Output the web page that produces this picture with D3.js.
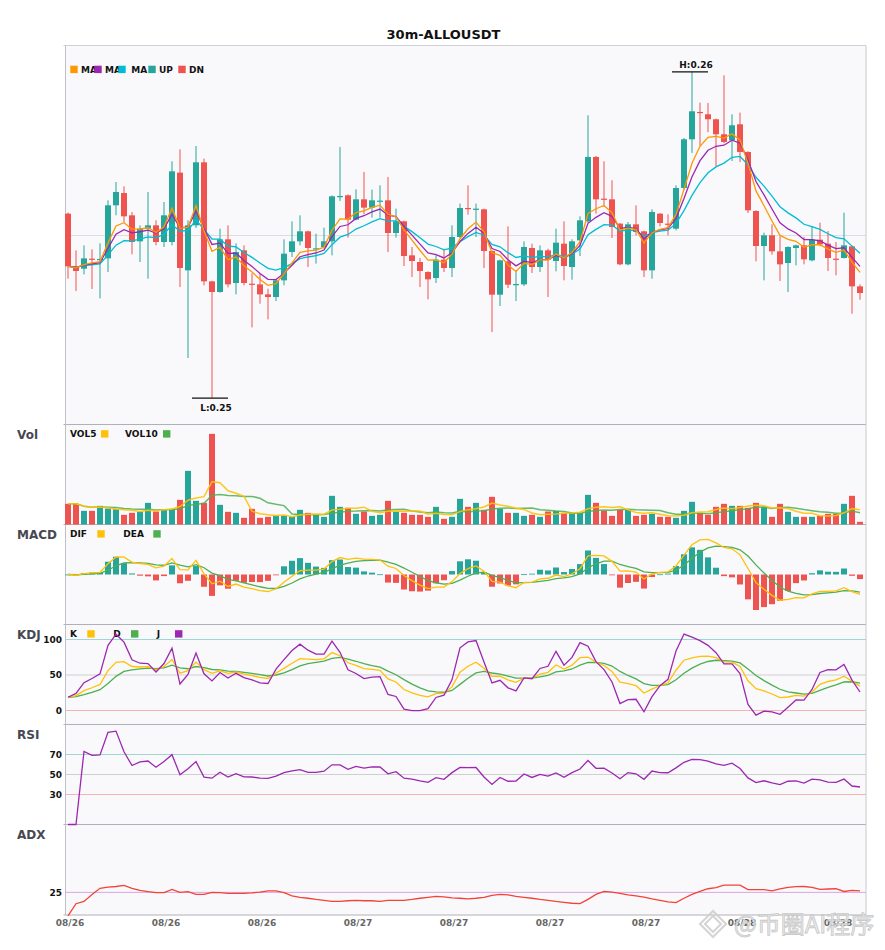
<!DOCTYPE html>
<html><head><meta charset="utf-8">
<script src="https://cdn.jsdelivr.net/npm/d3@7/dist/d3.min.js"></script>
<style>html,body{margin:0;padding:0;background:#fff;}svg{display:block;font-family:"DejaVu Sans",sans-serif;}</style>
</head><body>
<svg id="chart" width="885" height="950"></svg>
<script>
// ---------- DATA ----------
const title = "30m-ALLOUSDT";
const opens = [0.25573,0.25415,0.25408,0.25438,0.25434,0.25439,0.25598,0.25635,0.25568,0.25490,
0.25528,0.25538,0.25488,0.25488,0.25696,0.25403,0.25538,0.25727,0.25370,0.25338,
0.25496,0.25365,0.25463,0.25363,0.25361,0.25331,0.25323,0.25373,0.25458,0.25490,
0.25520,0.25468,0.25473,0.25490,0.25624,0.25628,0.25555,0.25616,0.25591,0.25611,
0.25613,0.25515,0.25550,0.25448,0.25428,0.25398,0.25380,0.25435,0.25410,0.25503,
0.25590,0.25587,0.25586,0.25461,0.25330,0.25430,0.25361,0.25361,0.25470,0.25413,
0.25463,0.25431,0.25483,0.25413,0.25493,0.25550,0.25743,0.25618,0.25616,0.25543,
0.25421,0.25541,0.25520,0.25403,0.25573,0.25543,0.25528,0.25650,0.25796,0.25878,
0.25871,0.25856,0.25811,0.25793,0.25841,0.25758,0.25581,0.25476,0.25508,0.25460,
0.25425,0.25470,0.25478,0.25433,0.25495,0.25483,0.25438,0.25440,0.25475,0.25355];
const highs = [0.25576,0.25463,0.25478,0.25466,0.25484,0.25613,0.25668,0.25655,0.25578,0.25538,
0.25638,0.25553,0.25608,0.25730,0.25766,0.25553,0.25776,0.25738,0.25372,0.25528,
0.25538,0.25484,0.25478,0.25394,0.25394,0.25348,0.25376,0.25496,0.25550,0.25568,
0.25522,0.25513,0.25531,0.25628,0.25773,0.25631,0.25646,0.25698,0.25645,0.25658,
0.25683,0.25588,0.25552,0.25473,0.25440,0.25400,0.25448,0.25468,0.25538,0.25603,
0.25658,0.25603,0.25588,0.25463,0.25435,0.25535,0.25403,0.25490,0.25483,0.25478,
0.25468,0.25528,0.25550,0.25496,0.25565,0.25868,0.25746,0.25730,0.25673,0.25545,
0.25548,0.25598,0.25522,0.25586,0.25575,0.25571,0.25658,0.25800,0.25998,0.25906,
0.25905,0.25858,0.25988,0.25871,0.25876,0.25760,0.25583,0.25516,0.25541,0.25505,
0.25475,0.25480,0.25503,0.25535,0.25546,0.25521,0.25488,0.25576,0.25477,0.25361];
const lows = [0.25378,0.25341,0.25391,0.25347,0.25319,0.25398,0.25568,0.25548,0.25451,0.25428,
0.25378,0.25478,0.25473,0.25478,0.25353,0.25140,0.25530,0.25358,0.25020,0.25336,
0.25352,0.25331,0.25358,0.25232,0.25303,0.25256,0.25311,0.25358,0.25443,0.25478,
0.25413,0.25423,0.25468,0.25448,0.25611,0.25501,0.25553,0.25571,0.25561,0.25561,
0.25458,0.25501,0.25416,0.25383,0.25353,0.25316,0.25365,0.25398,0.25383,0.25500,
0.25570,0.25503,0.25410,0.25218,0.25296,0.25350,0.25311,0.25356,0.25395,0.25398,
0.25323,0.25400,0.25373,0.25375,0.25446,0.25545,0.25573,0.25593,0.25500,0.25418,
0.25418,0.25508,0.25383,0.25378,0.25535,0.25508,0.25523,0.25645,0.25755,0.25776,
0.25817,0.25715,0.25784,0.25731,0.25728,0.25575,0.25430,0.25373,0.25450,0.25371,
0.25338,0.25418,0.25421,0.25430,0.25475,0.25401,0.25388,0.25439,0.25273,0.25315];
const closes = [0.25415,0.25401,0.25439,0.25436,0.25437,0.25598,0.25638,0.25565,0.25488,0.25528,
0.25538,0.25488,0.25568,0.25700,0.25410,0.25538,0.25727,0.25370,0.25338,0.25496,
0.25361,0.25458,0.25365,0.25361,0.25331,0.25323,0.25373,0.25453,0.25490,0.25520,
0.25470,0.25469,0.25490,0.25625,0.25626,0.25555,0.25616,0.25591,0.25613,0.25612,
0.25515,0.25550,0.25446,0.25431,0.25401,0.25376,0.25435,0.25410,0.25503,0.25590,
0.25587,0.25588,0.25461,0.25330,0.25433,0.25360,0.25362,0.25473,0.25413,0.25463,
0.25435,0.25486,0.25416,0.25490,0.25553,0.25743,0.25616,0.25617,0.25533,0.25421,
0.25541,0.25518,0.25403,0.25578,0.25545,0.25542,0.25650,0.25796,0.25880,0.25877,
0.25856,0.25811,0.25788,0.25838,0.25758,0.25583,0.25476,0.25508,0.25460,0.25421,
0.25473,0.25478,0.25436,0.25495,0.25481,0.25440,0.25437,0.25478,0.25355,0.25335];
const volumes = [62,62,41,41,56,48,46,29,35,38, 65,39,44,47,74,161,71,65,272,59,
38,35,20,47,20,23,26,26,23,44, 35,30,23,86,53,50,32,39,26,29,
71,38,35,29,29,23,53,17,23,77, 53,65,44,83,47,35,35,26,29,23,
39,41,35,35,35,89,65,41,26,44, 44,26,29,32,23,23,20,41,68,35,
29,53,62,56,56,50,65,53,23,62, 38,23,23,23,26,32,32,62,86,8];
const adxValues = [14.6,20.0,21.0,24.1,26.8,27.3,27.6,28.1,26.8,25.9,
25.3,24.9,24.9,26.3,25.0,25.3,24.1,24.1,25.0,24.9,
24.6,24.6,24.6,24.8,25.1,25.7,25.7,24.9,23.5,22.8,
22.4,21.9,21.5,21.0,21.0,21.3,21.5,21.3,21.3,21.0,
21.5,21.5,21.5,21.9,22.4,22.8,23.2,23.0,22.6,22.4,
22.1,22.4,22.8,23.7,24.1,23.9,23.2,22.8,22.4,21.9,
21.5,21.0,20.6,20.2,20.0,21.9,24.1,25.4,25.1,24.6,
23.9,23.5,22.9,22.1,21.5,20.8,20.5,22.4,24.1,25.4,
26.6,27.1,28.2,28.2,28.2,26.2,26.2,26.2,25.7,26.5,
27.2,27.5,27.6,27.2,26.3,26.5,26.6,25.4,25.9,25.7];
const xTickIndex = [0,12,24,36,48,60,72,84,96];
const xTickLabels = ["08/26","08/26","08/26","08/27","08/27","08/27","08/27","08/28","08/28"];
const kdjTicks = [100,50,0];
const rsiTicks = [70,50,30];
const adxTicks = [25];
const maPeriods = [5,7,12];
const volMaPeriods = [5,10];
const macdParams = [6,13,5];

// ---------- STYLE ----------
const UP = "#26a69a", DN = "#ef5350";
const MA_COLORS = ["#ff9800","#9c27b0","#00bcd4"];
const YEL = "#ffc107", GRN = "#4caf50", PUR = "#9c27b0", ADXC = "#f44336";
const N = closes.length;
const L = 65.5, R = 866;
const P = {main:[45.5,424.5], vol:[424.5,524.5], macd:[524.5,624.5], kdj:[624.5,724.5], rsi:[724.5,824.5], adx:[824.5,915]};

// ---------- INDICATORS ----------
function ema(src, n){ const a = 2/(n+1), out=[]; src.forEach((v,i)=>out.push(i===0 ? v : out[i-1] + a*(v-out[i-1]))); return out; }
function sma(src, n){ return src.map((v,i)=>d3.mean(src.slice(Math.max(0,i-n+1), i+1))); }
const maLines = maPeriods.map(p=>ema(closes,p));
const volMa = volMaPeriods.map(p=>sma(volumes,p));
const eFast = ema(closes,macdParams[0]), eSlow = ema(closes,macdParams[1]);
const dif = closes.map((c,i)=>eFast[i]-eSlow[i]);
const dea = ema(dif,macdParams[2]);
const hist = dif.map((d,i)=>2*(d-dea[i]));
// KDJ(9,3,3)
const K=[], D=[], J=[];
for(let i=0;i<N;i++){
  const s=Math.max(0,i-8);
  const hh=d3.max(highs.slice(s,i+1)), ll=d3.min(lows.slice(s,i+1));
  const rsv = hh===ll ? 50 : (closes[i]-ll)/(hh-ll)*100;
  const k = i===0 ? rsv : (2*K[i-1]+rsv)/3;
  const d = i===0 ? rsv : (2*D[i-1]+k)/3;
  K.push(k); D.push(d); J.push(3*k-2*d);
}
// RSI(14)
const RSI=[]; let ag=0, al=0;
for(let i=0;i<N;i++){
  if(i===0){RSI.push(0);continue;}
  const ch=closes[i]-closes[i-1], g=Math.max(ch,0), l=Math.max(-ch,0);
  if(i<=14){ ag=(ag*(i-1)+g)/i; al=(al*(i-1)+l)/i; } else { ag=(ag*13+g)/14; al=(al*13+l)/14; }
  RSI.push(al===0 ? (ag===0?0:100) : 100-100/(1+ag/al));
}

// ---------- SCALES ----------
const svg = d3.select("#chart");
const x = d3.scaleBand().domain(d3.range(N)).range([64,864]).paddingInner(0.25).paddingOuter(0.125);
const bw = x.bandwidth();
const cx = i => x(i)+bw/2;
const hi = d3.max(highs), lo = d3.min(lows), rg = hi-lo;
const yMain = d3.scaleLinear().domain([lo-0.081*rg, hi+0.081*rg]).range([P.main[1],P.main[0]]);
const yVol = d3.scaleLinear().domain([0, d3.max(volumes)*1.103]).range([P.vol[1],P.vol[0]]);
const mAll = d3.max(dif.concat(dea, hist).map(Math.abs))/0.71;
const yMacd = d3.scaleLinear().domain([-mAll,mAll]).range([P.macd[1],P.macd[0]]);
const yKdj = d3.scaleLinear().domain([-19.7,121.1]).range([P.kdj[1],P.kdj[0]]);
const yRsi = d3.scaleLinear().domain([0,100]).range([P.rsi[1],P.rsi[0]]);
const yAdx = d3.scaleLinear().domain([15,55]).range([P.adx[1],P.adx[0]]);

// ---------- FRAME ----------
svg.append("rect").attr("x",L).attr("y",P.main[0]).attr("width",R-L).attr("height",P.adx[1]-P.main[0]).attr("fill","#f9f9fc");
svg.append("text").attr("x",443.5).attr("y",39).attr("text-anchor","middle").attr("font-size",13).attr("font-weight","bold").attr("fill","#111").text(title);
svg.append("line").attr("x1",L).attr("x2",R).attr("y1",235.5).attr("y2",235.5).attr("stroke","#dcdce2");
[P.main[0],P.vol[0],P.macd[0],P.kdj[0],P.rsi[0],P.adx[0],P.adx[1]].forEach((yy,k)=>{
  svg.append("line").attr("x1",L-2).attr("x2",R).attr("y1",yy).attr("y2",yy).attr("stroke", k===0?"#cfcfd6":"#b0b0b8");
});
svg.append("line").attr("x1",L).attr("x2",L).attr("y1",P.main[0]).attr("y2",P.adx[1]).attr("stroke","#c0c0c8");
svg.append("line").attr("x1",R).attr("x2",R).attr("y1",P.main[0]).attr("y2",P.adx[1]).attr("stroke","#c8c8d0");

// panel titles
[["Vol",439],["MACD",539],["KDJ",639],["RSI",739],["ADX",839]].forEach(([t,yy])=>{
  svg.append("text").attr("x",17).attr("y",yy).attr("font-size",12).attr("font-weight","bold").attr("fill","#474752").text(t);
});

// guide lines
function guide(yy,color){ svg.append("line").attr("x1",L).attr("x2",R).attr("y1",yy).attr("y2",yy).attr("stroke",color).attr("stroke-width",1); }
function tickLabel(yy,t){ svg.append("text").attr("x",62).attr("y",yy+3.3).attr("text-anchor","end").attr("font-size",9).attr("font-weight","bold").attr("fill","#111").text(t); }
const guideCol = v => v===100||v===70 ? "#9ed6d6" : (v===50 ? "#cfcfcf" : "#f5b3b3");
kdjTicks.forEach(v=>{guide(yKdj(v),guideCol(v)); tickLabel(yKdj(v),v);});
rsiTicks.forEach(v=>{guide(yRsi(v),guideCol(v)); tickLabel(yRsi(v),v);});
adxTicks.forEach(v=>{guide(yAdx(v),"#dba4e6"); tickLabel(yAdx(v),v);});

// ---------- MAIN CANDLES ----------
const g = svg.append("g");
d3.range(N).forEach(i=>{
  const up = closes[i] >= opens[i], col = up?UP:DN;
  g.append("line").attr("x1",cx(i)).attr("x2",cx(i)).attr("y1",yMain(highs[i])).attr("y2",yMain(lows[i])).attr("stroke",col).attr("stroke-width",1);
  const y0=yMain(Math.max(opens[i],closes[i])), y1=yMain(Math.min(opens[i],closes[i]));
  g.append("rect").attr("x",x(i)).attr("y",y0).attr("width",bw).attr("height",Math.max(1.2,y1-y0)).attr("fill",col);
});
const lineMain = d3.line().x((d,i)=>cx(i)).y(d=>yMain(d));
maLines.slice().reverse().forEach((arr,k)=>{
  g.append("path").attr("d",lineMain(arr)).attr("fill","none").attr("stroke",MA_COLORS[2-k]).attr("stroke-width",1.3);
});
// high / low markers
const iH = d3.maxIndex(highs), iL = d3.minIndex(lows);
svg.append("line").attr("x1",cx(iH)-20).attr("x2",cx(iH)+16).attr("y1",yMain(highs[iH])).attr("y2",yMain(highs[iH])).attr("stroke","#111").attr("stroke-width",1.2);
svg.append("text").attr("x",cx(iH)+4).attr("y",yMain(highs[iH])-3.5).attr("text-anchor","middle").attr("font-size",9).attr("font-weight","bold").attr("fill","#111").text("H:"+highs[iH].toFixed(2));
svg.append("line").attr("x1",cx(iL)-20).attr("x2",cx(iL)+16).attr("y1",yMain(lows[iL])).attr("y2",yMain(lows[iL])).attr("stroke","#111").attr("stroke-width",1.2);
svg.append("text").attr("x",cx(iL)+4).attr("y",yMain(lows[iL])+12.5).attr("text-anchor","middle").attr("font-size",9).attr("font-weight","bold").attr("fill","#111").text("L:"+lows[iL].toFixed(2));

// legends
function legend(items, yBase){
  items.forEach(([t,col,sx,tx])=>{
    svg.append("text").attr("x",tx).attr("y",yBase).attr("font-size",9).attr("font-weight","bold").attr("fill","#111").text(t);
  });
  items.forEach(([t,col,sx,tx])=>{
    svg.append("rect").attr("x",sx).attr("y",yBase-6.8).attr("width",7.4).attr("height",7.4).attr("fill",col);
  });
}
legend([["MA",MA_COLORS[0],70.3,81],["MA",MA_COLORS[1],94.3,105],["MA",MA_COLORS[2],118.3,131.3],["UP",UP,148.3,159],["DN",DN,178.3,189]],72.5);
function legend2(items,yBase){
  items.forEach(([t,col,tx,sx])=>{
    svg.append("text").attr("x",tx).attr("y",yBase).attr("font-size",9).attr("font-weight","bold").attr("fill","#111").text(t);
    svg.append("rect").attr("x",sx).attr("y",yBase-6.8).attr("width",7.4).attr("height",7.4).attr("fill",col);
  });
}
legend2([["VOL5",YEL,70,101],["VOL10",GRN,125,163]],437);
legend2([["DIF",YEL,70,97.3],["DEA",GRN,123.3,153.3]],537);
legend2([["K",YEL,70,87.3],["D",GRN,113.3,131],["J",PUR,156.7,175]],637);

// ---------- VOLUME ----------
d3.range(N).forEach(i=>{
  const col = closes[i]>=opens[i]?UP:DN;
  svg.append("rect").attr("x",x(i)).attr("y",yVol(volumes[i])).attr("width",bw).attr("height",yVol(0)-yVol(volumes[i])).attr("fill",col);
});
const lineVol = d3.line().x((d,i)=>cx(i)).y(d=>yVol(d));
svg.append("path").attr("d",lineVol(volMa[1])).attr("fill","none").attr("stroke",GRN).attr("stroke-width",1.5).attr("opacity",0.85);
svg.append("path").attr("d",lineVol(volMa[0])).attr("fill","none").attr("stroke",YEL).attr("stroke-width",1.5).attr("opacity",0.9);

// ---------- MACD ----------
d3.range(N).forEach(i=>{
  const v=hist[i], col = v>=0?UP:DN;
  const y0=yMacd(Math.max(v,0)), y1=yMacd(Math.min(v,0));
  svg.append("rect").attr("x",x(i)).attr("y",y0).attr("width",bw).attr("height",Math.max(0.8,y1-y0)).attr("fill",col);
});
const lineMacd = d3.line().x((d,i)=>cx(i)).y(d=>yMacd(d));
svg.append("path").attr("d",lineMacd(dea)).attr("fill","none").attr("stroke",GRN).attr("stroke-width",1.3);
svg.append("path").attr("d",lineMacd(dif)).attr("fill","none").attr("stroke",YEL).attr("stroke-width",1.3);

// ---------- KDJ ----------
const lineKdj = d3.line().x((d,i)=>cx(i)).y(d=>yKdj(d));
svg.append("path").attr("d",lineKdj(D)).attr("fill","none").attr("stroke",GRN).attr("stroke-width",1.3);
svg.append("path").attr("d",lineKdj(K)).attr("fill","none").attr("stroke",YEL).attr("stroke-width",1.3);
svg.append("path").attr("d",lineKdj(J)).attr("fill","none").attr("stroke",PUR).attr("stroke-width",1.3);

// ---------- RSI ----------
const lineRsi = d3.line().x((d,i)=>cx(i)).y(d=>yRsi(d));
svg.append("path").attr("d",lineRsi(RSI)).attr("fill","none").attr("stroke",PUR).attr("stroke-width",1.3);

// ---------- ADX ----------
const lineAdx = d3.line().x((d,i)=>cx(i)).y(d=>yAdx(d));
svg.append("path").attr("d",lineAdx(adxValues)).attr("fill","none").attr("stroke",ADXC).attr("stroke-width",1.3);

// ---------- X AXIS ----------
xTickIndex.forEach((idx,k)=>{
  svg.append("text").attr("x",cx(idx)+2).attr("y",925.5).attr("text-anchor","middle").attr("font-size",9).attr("font-weight","bold").attr("fill","#666").text(xTickLabels[k]);
});

// ---------- WATERMARK ----------
const wm = svg.append("g").attr("opacity",0.9);
wm.append("path").attr("d","M713,911 L726,924 L713,937 L700,924 Z M713,916 L721,924 L713,932 L705,924 Z").attr("fill","none").attr("stroke","#d0d0d0").attr("stroke-width",2);
wm.append("text").attr("x",734).attr("y",933).attr("font-size",24).attr("font-family","Noto Sans CJK SC, sans-serif").attr("fill","#ececec").attr("stroke","#c4c4c4").attr("stroke-width",0.8).text("@币圈AI程序");
</script>
</body></html>
